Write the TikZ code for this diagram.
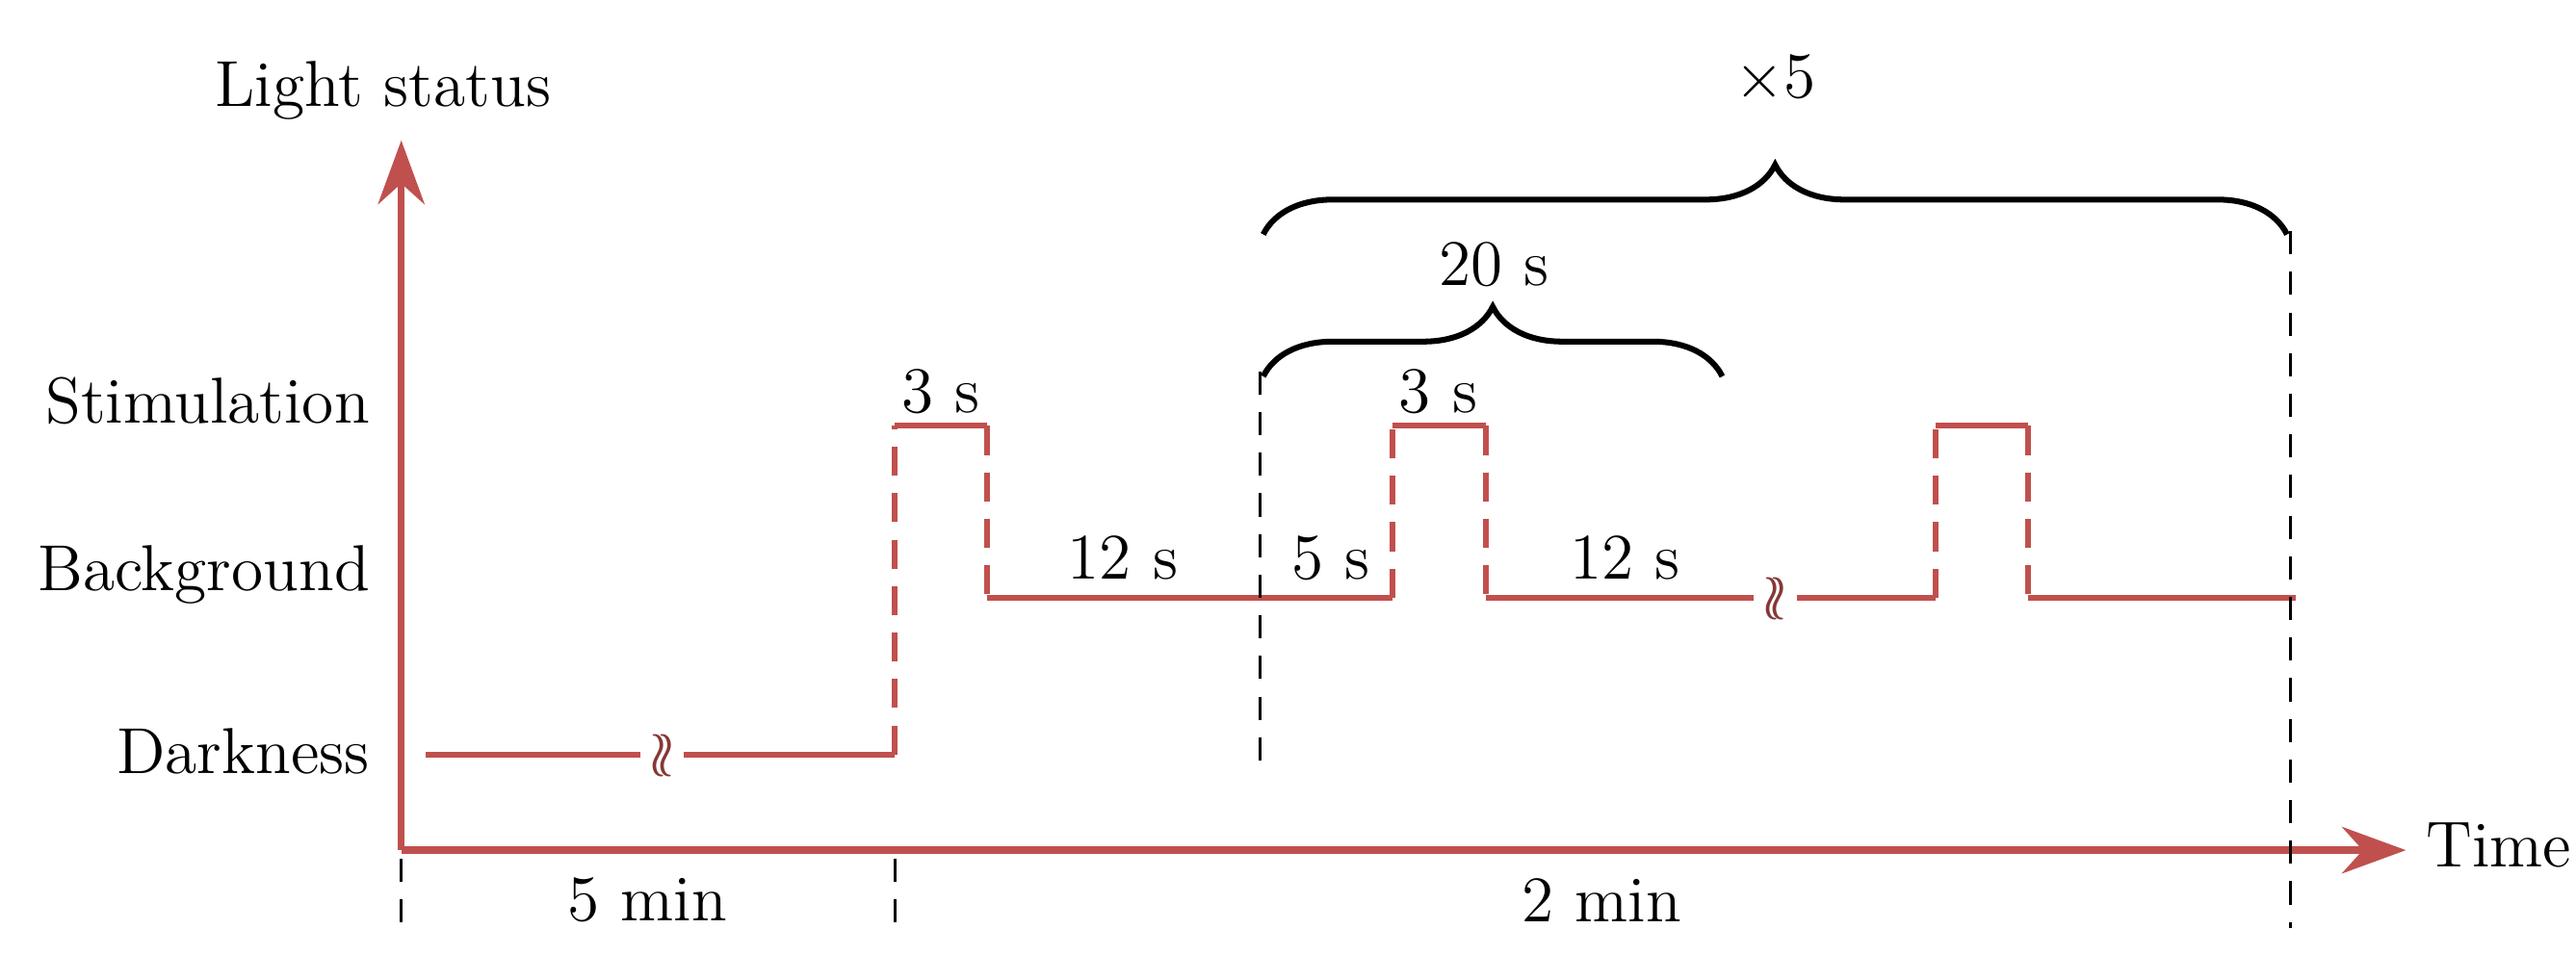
\documentclass[tikz,border=0pt]{standalone}
\usetikzlibrary{decorations.pathreplacing,arrows.meta}
\definecolor{sig}{RGB}{192,80,77}
\begin{document}
\begin{tikzpicture}[x=0.01cm,y=-0.01cm,font=\fontsize{11.2}{13}\selectfont,
 sigline/.style={sig,line width=1pt},
 sigdash/.style={sig,line width=1pt,dash pattern=on 5pt off 3pt},
 guide/.style={black,line width=0.5pt,dash pattern=on 4pt off 3pt},
 lbl/.style={inner sep=1pt},
 br/.style={decorate,decoration={brace,amplitude=12pt},line width=1pt}]
\useasboundingbox (0,0) rectangle (1560,578);
% axes
\coordinate (O) at (243,515);
\coordinate (Ytip) at (243,85);
\coordinate (Xtip) at (1457,515);
\draw[sig,line width=1.2pt,-{Stealth[length=11pt,width=8pt]}] (O) -- (Ytip);
\draw[sig,line width=1.2pt,-{Stealth[length=11pt,width=8pt]}] (O) -- (Xtip);
\node[lbl] (ls) at (232,55) {Light status};
\node[lbl,anchor=west] (tm) at (1465,512) {Time};
\node[lbl,anchor=east] (st) at (228,243) {Stimulation};
\node[lbl,anchor=east] (bg) at (228,348) {Background};
\node[lbl,anchor=east] (dk) at (228,455) {Darkness};
% signal
\coordinate (d0) at (258,457); \coordinate (d1) at (388,457);
\coordinate (d2) at (414,457); \coordinate (d3) at (542,457);
\node[sig!70!black,inner sep=0pt] (bk1) at (401,458) {$\wr\!\wr$};
\draw[sigline] (d0) -- (d1); \draw[sigline] (d2) -- (d3);
\coordinate (s1a) at (542,258); \coordinate (s1b) at (598,258);
\coordinate (b1a) at (598,362); \coordinate (b1b) at (843,362);
\coordinate (s2a) at (843,258); \coordinate (s2b) at (900,258);
\coordinate (b2a) at (900,362); \coordinate (b2b) at (1062,362);
\node[sig!70!black,inner sep=0pt] (bk2) at (1075,363) {$\wr\!\wr$};
\coordinate (b3a) at (1088,362); \coordinate (b3b) at (1172,362);
\coordinate (s3a) at (1172,258); \coordinate (s3b) at (1228,258);
\coordinate (b4a) at (1228,362); \coordinate (b4b) at (1390,362);
\draw[sigdash] (d3) -- (s1a);
\draw[sigline] (s1a) -- (s1b);
\draw[sigdash] (s1b) -- (b1a);
\draw[sigline] (b1a) -- (b1b);
\draw[sigdash] (b1b) -- (s2a);
\draw[sigline] (s2a) -- (s2b);
\draw[sigdash] (s2b) -- (b2a);
\draw[sigline] (b2a) -- (b2b);
\draw[sigline] (b3a) -- (b3b);
\draw[sigdash] (b3b) -- (s3a);
\draw[sigline] (s3a) -- (s3b);
\draw[sigdash] (s3b) -- (b4a);
\draw[sigline] (b4a) -- (b4b);
% guides
\coordinate (g1a) at (243,520); \coordinate (g1b) at (243,562);
\coordinate (g2a) at (542,520); \coordinate (g2b) at (542,562);
\coordinate (g3a) at (763,225); \coordinate (g3b) at (763,462);
\coordinate (g4a) at (1387,140); \coordinate (g4b) at (1387,562);
\draw[guide] (g1a) -- (g1b);
\draw[guide] (g2a) -- (g2b);
\draw[guide] (g3a) -- (g3b);
\draw[guide] (g4a) -- (g4b);
% braces
\coordinate (B1a) at (765,142); \coordinate (B1b) at (1385,142);
\draw[br] (B1a) -- (B1b);
\node[lbl] (x5) at (1075,48) {$\times$5};
\coordinate (B2a) at (765,228); \coordinate (B2b) at (1043,228);
\draw[br] (B2a) -- (B2b);
\node[lbl] (t20) at (905,160) {20 s};
% labels
\node[lbl] (l3a) at (570,237) {3 s};
\node[lbl] (l12a) at (680,338) {12 s};
\node[lbl] (l5) at (806,338) {5 s};
\node[lbl] (l3b) at (871,237) {3 s};
\node[lbl] (l12b) at (984,338) {12 s};
\node[lbl] (m5) at (392,545) {5 min};
\node[lbl] (m2) at (970,545) {2 min};
\end{tikzpicture}
\end{document}
